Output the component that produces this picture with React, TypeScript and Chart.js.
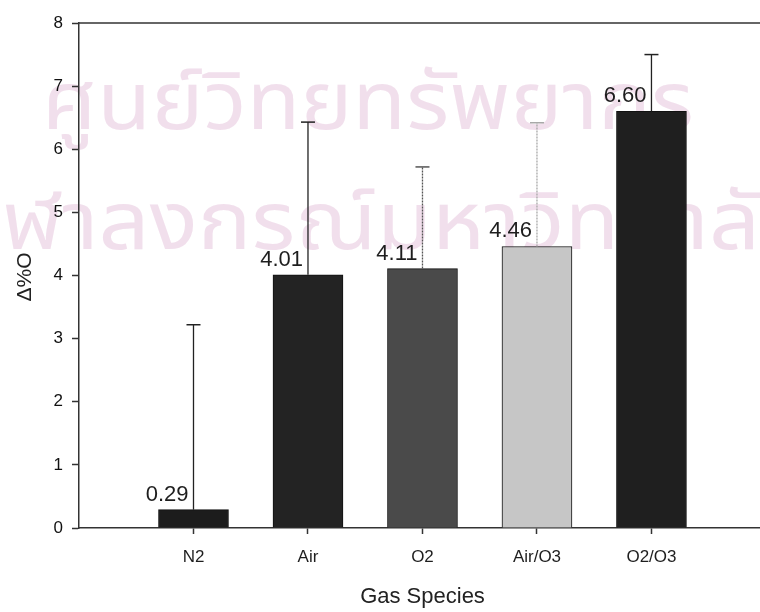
import React, { useEffect, useRef } from "react";
import { Chart, registerables } from "chart.js";

Chart.register(...registerables);

const categories = ["N2", "Air", "O2", "Air/O3", "O2/O3"];
const values = [0.29, 4.01, 4.11, 4.46, 6.6];
const errors = [2.93, 2.42, 1.61, 1.96, 0.9];
const valueLabels = ["0.29", "4.01", "4.11", "4.46", "6.60"];
const barColors = ["#1c1c1c", "#232323", "#4a4a4a", "#c6c6c6", "#1f1f1f"];
const errColors = ["#222", "#222", "#555", "#a8a8a8", "#222"];
const errDash = [[], [], [2, 1], [2, 1], []];
const yTicks = [0, 1, 2, 3, 4, 5, 6, 7, 8];
const watermark = ["ศูนย์วิทยทรัพยากร", "จุฬาลงกรณ์มหาวิทยาลัย"];

const FONT = "'Liberation Sans', Arial, Helvetica, sans-serif";

const decorPlugin = {
  id: "decor",
  beforeDraw(chart: any) {
    const ctx = chart.ctx;
    ctx.save();
    ctx.fillStyle = "#ffffff";
    ctx.fillRect(0, 0, chart.width, chart.height);
    ctx.fillStyle = "rgba(230, 196, 220, 0.55)";
    ctx.textAlign = "center";
    ctx.textBaseline = "alphabetic";
    ctx.font = `80px 'Noto Sans Thai', 'Noto Sans', 'DejaVu Sans', sans-serif`;
    ctx.save();
    ctx.translate(368, 129);
    ctx.scale(1.1, 1);
    ctx.fillText(watermark[0], 0, 0);
    ctx.restore();
    ctx.save();
    ctx.translate(384, 249);
    ctx.scale(1.12, 1);
    ctx.fillText(watermark[1], 0, 0);
    ctx.restore();
    ctx.restore();
  },
  afterDatasetsDraw(chart: any) {
    const ctx = chart.ctx;
    const xs = chart.scales.x;
    const ys = chart.scales.y;
    const area = chart.chartArea;
    ctx.save();
    // top frame line
    ctx.strokeStyle = "#333";
    ctx.lineWidth = 1.5;
    ctx.beginPath();
    ctx.moveTo(area.left, area.top);
    ctx.lineTo(area.right, area.top);
    ctx.stroke();
    // error bars and value labels
    values.forEach((v, i) => {
      const x = xs.getPixelForValue(i + 1);
      const yb = ys.getPixelForValue(v);
      const yt = ys.getPixelForValue(v + errors[i]);
      ctx.strokeStyle = errColors[i];
      ctx.lineWidth = 1.3;
      ctx.setLineDash(errDash[i]);
      ctx.beginPath();
      ctx.moveTo(x, yb);
      ctx.lineTo(x, yt);
      ctx.stroke();
      ctx.setLineDash([]);
      ctx.lineWidth = 1.5;
      ctx.beginPath();
      ctx.moveTo(x - 7, yt);
      ctx.lineTo(x + 7, yt);
      ctx.stroke();
      ctx.fillStyle = "#1e1e1e";
      ctx.font = `22px ${FONT}`;
      ctx.textAlign = "right";
      ctx.textBaseline = "alphabetic";
      ctx.fillText(valueLabels[i], x - 5, yb - 9);
    });
    // axis titles
    ctx.fillStyle = "#222";
    ctx.font = `22px ${FONT}`;
    ctx.textAlign = "center";
    ctx.textBaseline = "middle";
    ctx.fillText("Gas Species", (area.left + 766) / 2, 597);
    ctx.translate(25, 277);
    ctx.rotate(-Math.PI / 2);
    ctx.font = `21px ${FONT}`;
    ctx.fillText("Δ%O", 0, 0);
    ctx.restore();
  },
};

export default function App() {
  const ref = useRef<HTMLCanvasElement | null>(null);
  useEffect(() => {
    if (!ref.current) return;
    const chart = new Chart(ref.current, {
      type: "bar",
      data: {
        datasets: [
          {
            data: values.map((v, i) => ({ x: i + 1, y: v })),
            backgroundColor: barColors,
            borderColor: "#111",
            borderWidth: 1,
            barThickness: 70,
          },
        ],
      },
      options: {
        animation: false,
        responsive: false,
        devicePixelRatio: 1,
        layout: { padding: { top: 23, right: 0, left: 0, bottom: 0 } },
        plugins: {
          legend: { display: false },
          tooltip: { enabled: false },
        },
        scales: {
          x: {
            type: "linear",
            min: 0,
            max: 5.948,
            offset: false,
            afterFit: (s: any) => {
              s.height = 84;
              s.paddingRight = 0;
              s.paddingLeft = 0;
            },
            grid: {
              offset: false,
              drawOnChartArea: false,
              drawTicks: true,
              tickLength: 6,
              tickWidth: 1.5,
              tickColor: (c: any) => {
                const v = c.tick ? c.tick.value : -1;
                return Number.isInteger(v) && v >= 1 && v <= categories.length ? "#333" : "rgba(0,0,0,0)";
              },
            },
            border: { display: true, color: "#333", width: 1.5 },
            ticks: {
              stepSize: 1,
              autoSkip: false,
              maxRotation: 0,
              padding: 13,
              color: "#1e1e1e",
              font: { family: FONT, size: 17 },
              callback: (v: any) => {
                const n = Number(v);
                return Number.isInteger(n) && n >= 1 && n <= categories.length ? categories[n - 1] : "";
              },
            },
          },
          y: {
            min: 0,
            max: 8,
            afterFit: (s: any) => {
              s.width = 79;
            },
            afterBuildTicks: (s: any) => {
              s.ticks = yTicks.map((v) => ({ value: v }));
            },
            grid: {
              drawOnChartArea: false,
              drawTicks: true,
              tickLength: 7,
              tickWidth: 1.5,
              tickColor: "#333",
            },
            border: { display: true, color: "#333", width: 1.5 },
            ticks: {
              padding: 9,
              color: "#111",
              font: { family: FONT, size: 17 },
            },
          },
        },
      },
      plugins: [decorPlugin],
    });
    return () => chart.destroy();
  }, []);
  return (
    <div style={{ position: "absolute", left: 0, top: 0, width: 760, height: 612 }}>
      <canvas ref={ref} width={760} height={612} style={{ display: "block" }} />
    </div>
  );
}
